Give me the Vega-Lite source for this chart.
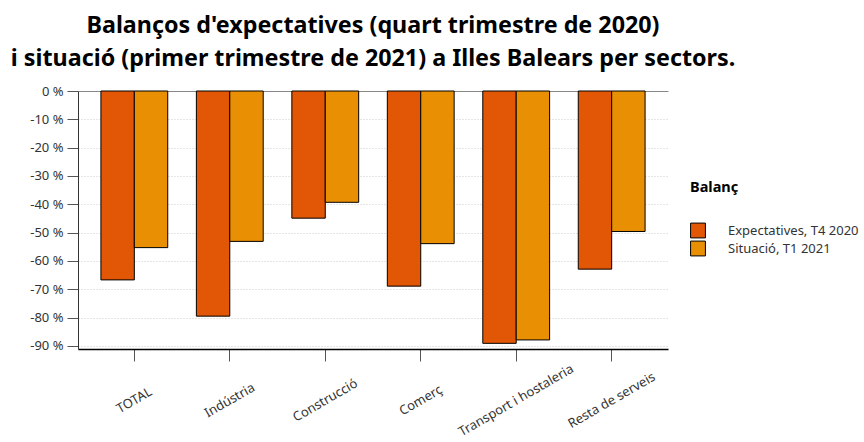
{
  "$schema": "https://vega.github.io/schema/vega-lite/v6.json",
  "width": 590,
  "height": 258,
  "autosize": {"type": "none"},
  "padding": {"left": 78, "top": 91, "right": 196, "bottom": 93},
  "background": "white",
  "title": {
    "text": ["Balanços d'expectatives (quart trimestre de 2020)", "i situació (primer trimestre de 2021) a Illes Balears per sectors."],
    "font": "Noto Sans",
    "fontSize": 23.3,
    "fontWeight": "bold",
    "color": "#000000",
    "lineHeight": 33,
    "offset": 14,
    "anchor": "middle"
  },
  "config": {
    "view": {"stroke": null},
    "font": "Noto Sans"
  },
  "data": {
    "values": [
      {"sector": "TOTAL", "balanc": "Expectatives, T4 2020", "value": -66.7},
      {"sector": "TOTAL", "balanc": "Situació, T1 2021", "value": -55.3},
      {"sector": "Indústria", "balanc": "Expectatives, T4 2020", "value": -79.5},
      {"sector": "Indústria", "balanc": "Situació, T1 2021", "value": -53.1},
      {"sector": "Construcció", "balanc": "Expectatives, T4 2020", "value": -44.9},
      {"sector": "Construcció", "balanc": "Situació, T1 2021", "value": -39.3},
      {"sector": "Comerç", "balanc": "Expectatives, T4 2020", "value": -68.9},
      {"sector": "Comerç", "balanc": "Situació, T1 2021", "value": -53.9},
      {"sector": "Transport i hostaleria", "balanc": "Expectatives, T4 2020", "value": -89.1},
      {"sector": "Transport i hostaleria", "balanc": "Situació, T1 2021", "value": -87.9},
      {"sector": "Resta de serveis", "balanc": "Expectatives, T4 2020", "value": -62.9},
      {"sector": "Resta de serveis", "balanc": "Situació, T1 2021", "value": -49.6}
    ]
  },
  "mark": {"type": "bar", "stroke": "#000000", "strokeWidth": 1},
  "encoding": {
    "x": {
      "field": "sector",
      "type": "nominal",
      "sort": ["TOTAL", "Indústria", "Construcció", "Comerç", "Transport i hostaleria", "Resta de serveis"],
      "scale": {"paddingInner": 0.3, "paddingOuter": 0.24},
      "axis": {
        "title": null,
        "labelAngle": -30,
        "labelAlign": "center",
        "labelBaseline": "middle",
        "labelFont": "Noto Sans",
        "labelFontSize": 13,
        "labelColor": "#333333",
        "labelPadding": 39,
        "labelOverlap": false,
        "labelBound": false,
        "tickSize": 12,
        "tickColor": "#555555",
        "domainColor": "#000000",
        "domainWidth": 1.5,
        "grid": false
      }
    },
    "xOffset": {"field": "balanc", "type": "nominal"},
    "y": {
      "field": "value",
      "type": "quantitative",
      "scale": {"domain": [-91.1, 0], "nice": false},
      "axis": {
        "title": null,
        "values": [0, -10, -20, -30, -40, -50, -60, -70, -80, -90],
        "labelExpr": "datum.value + ' %'",
        "labelFont": "Noto Sans",
        "labelFontSize": 13,
        "labelColor": "#333333",
        "labelOverlap": false,
        "labelFlush": false,
        "labelPadding": 4,
        "tickSize": 11,
        "tickColor": "#555555",
        "domainColor": "#333333",
        "domainWidth": 1,
        "grid": true,
        "gridColor": {"condition": {"test": "datum.value == 0", "value": "#888888"}, "value": "#cccccc"},
        "gridDash": {"condition": {"test": "datum.value == 0", "value": []}, "value": [1, 2]},
        "gridWidth": 1
      }
    },
    "color": {
      "field": "balanc",
      "type": "nominal",
      "scale": {"domain": ["Expectatives, T4 2020", "Situació, T1 2021"], "range": ["#E25705", "#E98F03"]},
      "legend": {
        "title": "Balanç",
        "titleFont": "Noto Sans",
        "titleFontSize": 14.5,
        "titleFontWeight": "bold",
        "titleColor": "#000000",
        "titlePadding": 27,
        "labelFont": "Noto Sans",
        "labelFontSize": 13,
        "labelColor": "#333333",
        "labelOffset": 22,
        "symbolType": "square",
        "symbolSize": 220,
        "symbolStrokeColor": "#000000",
        "symbolStrokeWidth": 1,
        "rowPadding": -3,
        "orient": "none",
        "legendX": 612,
        "legendY": 90
      }
    }
  }
}
